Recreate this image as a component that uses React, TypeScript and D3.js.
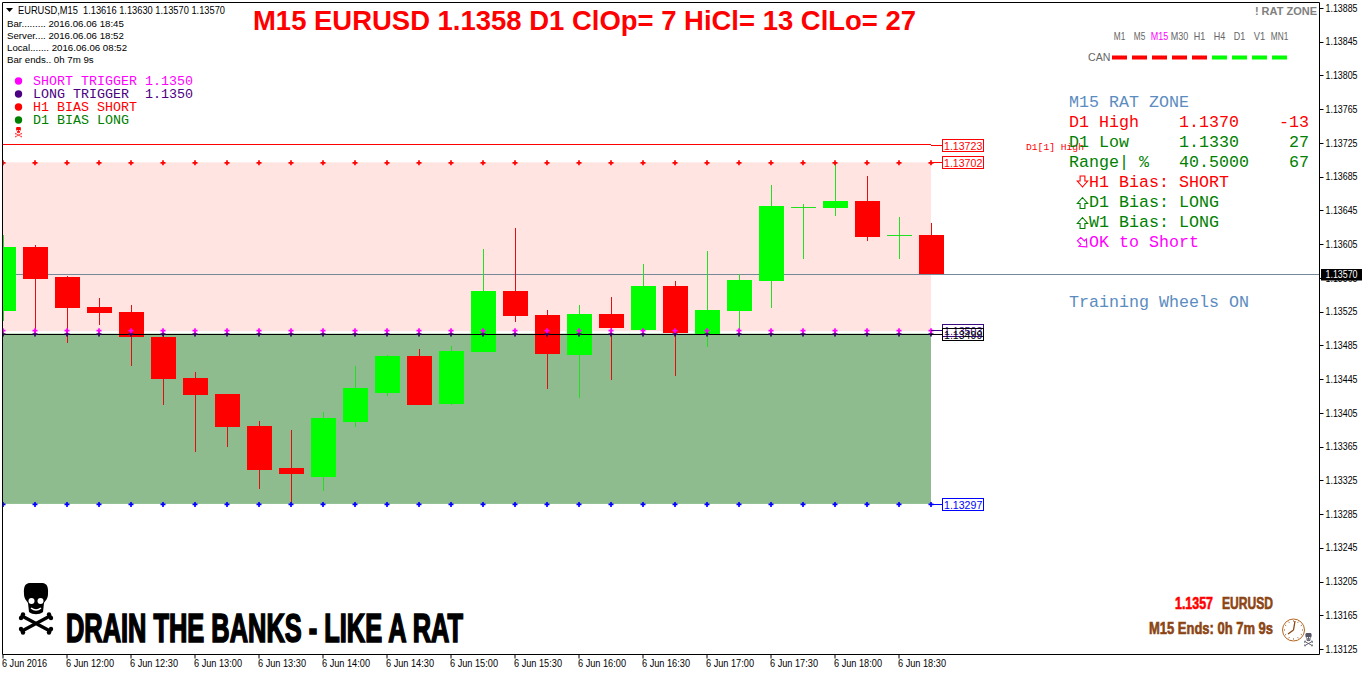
import React from 'react'
import * as d3 from 'd3'

const opens = [1.13526, 1.13602, 1.13566, 1.13531, 1.13525, 1.13495, 1.13446, 1.13427, 1.13389, 1.1334, 1.13329, 1.13394, 1.13429, 1.13472, 1.13415, 1.13477, 1.13549, 1.13521, 1.13474, 1.13522, 1.13503, 1.13555, 1.13499, 1.13526, 1.13561, 1.13649, 1.13648, 1.13656, 1.13616, 1.13616]
const highs = [1.13616, 1.13604, 1.13567, 1.13541, 1.13533, 1.13497, 1.13453, 1.13427, 1.13395, 1.13385, 1.13406, 1.13461, 1.13474, 1.13481, 1.13484, 1.13599, 1.13624, 1.13527, 1.13533, 1.13542, 1.13582, 1.13561, 1.13597, 1.1357, 1.13675, 1.13653, 1.13702, 1.13686, 1.13637, 1.1363]
const lows = [1.13514, 1.13501, 1.13488, 1.13509, 1.13461, 1.13414, 1.13359, 1.13365, 1.13315, 1.13298, 1.13312, 1.13388, 1.13425, 1.13414, 1.13414, 1.13477, 1.13513, 1.13433, 1.13423, 1.13444, 1.13503, 1.13449, 1.13483, 1.13499, 1.13529, 1.13587, 1.13638, 1.13609, 1.13587, 1.1357]
const closes = [1.13602, 1.13564, 1.13529, 1.13523, 1.13495, 1.13445, 1.13426, 1.13388, 1.13337, 1.13333, 1.13399, 1.13434, 1.13472, 1.13414, 1.13478, 1.13549, 1.1352, 1.13475, 1.13522, 1.13506, 1.13555, 1.135, 1.13527, 1.13563, 1.1365, 1.13649, 1.13656, 1.13614, 1.13616, 1.1357]

const timeLabels = ['6 Jun 2016', '6 Jun 12:00', '6 Jun 12:30', '6 Jun 13:00', '6 Jun 13:30', '6 Jun 14:00', '6 Jun 14:30', '6 Jun 15:00', '6 Jun 15:30', '6 Jun 16:00', '6 Jun 16:30', '6 Jun 17:00', '6 Jun 17:30', '6 Jun 18:00', '6 Jun 18:30']
const priceTicks = d3.range(0, 20).map(i => +(1.13885 - i * 0.0004).toFixed(5))

const prevHigh = 1.13723
const zoneTop = 1.13702
const shortTrigger = 1.13503
const longTrigger = 1.13499
const zoneBottom = 1.13297
const lastPrice = 1.1357

const timeframes = ['M1', 'M5', 'M15', 'M30', 'H1', 'H4', 'D1', 'V1', 'MN1']
const tfBias = ['short', 'short', 'short', 'short', 'short', 'long', 'long', 'long', 'long']

const infoLines = ['Bar......... 2016.06.06 18:45', 'Server.... 2016.06.06 18:52', 'Local....... 2016.06.06 08:52', 'Bar ends.. 0h 7m 9s']
const legendLabels = ['SHORT TRIGGER 1.1350', 'LONG TRIGGER  1.1350', 'H1 BIAS SHORT', 'D1 BIAS LONG']
const legendColors = ['#ff00ff', '#4b0082', '#ff0000', '#008000']

const W = 1362
const H = 675
const left = 2.5
const right = 1319.5
const top = 2.5
const bottom = 654.5
const zoneEnd = 931

const mono = '"Liberation Mono", monospace'
const sans = '"Liberation Sans", Arial, sans-serif'

// drawn about 36 wide and 52 high, origin at the top centre of the skull
function Skull({ x, y, k = 1, color = '#000', hole = '#fff' }) {
  return <g transform={`translate(${x},${y}) scale(${k})`}>
    <path d="M-12,11 C-13,-2 -7,0 0,0 C7,0 13,-2 12,11 C12,16 9,18 8,20 L7,29 C3,32 -3,32 -7,29 L-8,20 C-9,18 -12,16 -12,11 Z" fill={color} />
    <circle cx={-4.5} cy={18} r={3} fill={hole} />
    <circle cx={4.5} cy={18} r={3} fill={hole} />
    <path d="M-5,25 Q0,29 5,25" fill="none" stroke={hole} strokeWidth={1.5} />
    <path d="M-14,33 L14,48 M14,33 L-14,48" stroke={color} strokeWidth={3.4} strokeLinecap="round" />
    <circle cx={-15} cy={35} r={2.2} fill={color} />
    <circle cx={-13} cy={31.5} r={2.2} fill={color} />
    <circle cx={15} cy={35} r={2.2} fill={color} />
    <circle cx={13} cy={31.5} r={2.2} fill={color} />
    <circle cx={-15} cy={46} r={2.2} fill={color} />
    <circle cx={-13} cy={49.5} r={2.2} fill={color} />
    <circle cx={15} cy={46} r={2.2} fill={color} />
    <circle cx={13} cy={49.5} r={2.2} fill={color} />
  </g>
}

function Arrow({ x, y, rotate, color }) {
  return <path d="M0,-5.5 L5.2,0.5 H2.4 V5.5 H-2.4 V0.5 H-5.2 Z" transform={`translate(${x},${y}) rotate(${rotate})`} fill="#fff" stroke={color} strokeWidth={1.1} />
}

export default function App() {
  const x = d3.scaleLinear().domain([0, 29]).range([3.5, 931.5])
  const y = d3.scaleLinear().domain([1.13125, 1.13885]).range([649, 8])
  const crossPath = d3.symbol().type(d3.symbolCross).size(14)()
  const dotRows = [
    { price: zoneTop, color: '#ff0000' },
    { price: longTrigger, color: '#300060' },
    { price: shortTrigger, color: '#ff00ff' },
    { price: zoneBottom, color: '#0000ff' },
  ]
  const priceBoxes = [
    { price: prevHigh, color: '#ff0000', text: '1.13723' },
    { price: zoneTop, color: '#ff0000', text: '1.13702' },
    { price: shortTrigger, color: '#3a0a80', text: '1.13503' },
    { price: longTrigger, color: '#000000', text: '1.13499' },
    { price: zoneBottom, color: '#0000ff', text: '1.13297' },
  ]
  const dashX = d3.scaleLinear().domain([0, 8]).range([1112, 1272])

  return <div style={{ position: 'absolute', left: 0, top: 0 }}>
    <svg width={W} height={H} style={{ display: 'block', background: '#fff' }} fontFamily={sans}>
      <defs>
        <clipPath id="plot"><rect x={3} y={3} width={right - 3} height={bottom - 3} /></clipPath>
      </defs>

      <g clipPath="url(#plot)">
        <rect x={left} y={y(zoneTop)} width={zoneEnd - left} height={y(shortTrigger) - y(zoneTop) + 1} fill="#ffe4e1" />
        <rect x={left} y={y(longTrigger)} width={zoneEnd - left} height={y(zoneBottom) - y(longTrigger)} fill="#8fbc8f" />
        <line x1={left} x2={right} y1={Math.round(y(lastPrice)) + 0.5} y2={Math.round(y(lastPrice)) + 0.5} stroke="#778899" />
        <line x1={left} x2={zoneEnd} y1={Math.round(y(prevHigh)) - 0.5} y2={Math.round(y(prevHigh)) - 0.5} stroke="#ff0000" />

        <g shapeRendering="crispEdges">
          {opens.map((open, i) => {
            const up = closes[i] >= open
            const cx = x(i)
            const bodyTop = y(Math.max(open, closes[i]))
            const bodyH = Math.abs(y(open) - y(closes[i]))
            return <g key={i}>
              <rect x={cx - 0.5} width={1} y={y(highs[i])} height={y(lows[i]) - y(highs[i])} fill={up ? '#20e020' : '#e01010'} />
              <rect x={cx - 12.5} width={25} y={bodyTop} height={Math.max(bodyH, 1)} fill={bodyH < 1 ? '#20e020' : up ? '#00ff00' : '#ff0000'} />
            </g>
          })}
        </g>

        <line x1={left} x2={zoneEnd} y1={Math.round(y(longTrigger)) + 0.5} y2={Math.round(y(longTrigger)) + 0.5} stroke="#000" />

        {dotRows.map(row => <g key={row.price} fill={row.color}>
          {d3.range(0, 30).map(i => <path key={i} d={crossPath} transform={`translate(${x(i) - 0.5},${y(row.price) + 0.5})`} />)}
        </g>)}
      </g>

      {priceBoxes.map(b => {
        const py = Math.round(y(b.price)) + 0.5
        return <g key={b.text}>
          <line x1={zoneEnd} x2={942.5} y1={py} y2={py} stroke={b.color} />
          <rect x={942.5} y={py - 6} width={41} height={12} fill="#fff" fillOpacity={b.text === '1.13499' ? 0 : 1} stroke={b.color} />
          <text x={944} y={py + 4} fontSize={10.6} fill={b.color}>{b.text}</text>
        </g>
      })}

      <path d={`M${left},${bottom}V${top}H${right}V${bottom}H${left}`} fill="none" stroke="#000" />

      {priceTicks.map(p => <g key={p}>
        <line x1={right} x2={right + 4} y1={Math.round(y(p)) + 0.5} y2={Math.round(y(p)) + 0.5} stroke="#000" />
        <text x={1325.5} y={y(p) + 3.7} fontSize={10.2} textLength={32} lengthAdjust="spacingAndGlyphs" fill="#000">{p.toFixed(5)}</text>
      </g>)}
      <rect x={1321} y={269} width={41} height={11.5} fill="#000" />
      <text x={1325.5} y={y(lastPrice) + 4} fontSize={10.2} textLength={32} lengthAdjust="spacingAndGlyphs" fill="#fff">{lastPrice.toFixed(5)}</text>

      {timeLabels.map((t, i) => <g key={t}>
        <line x1={x(i * 2) - 0.5} x2={x(i * 2) - 0.5} y1={bottom} y2={bottom + 4} stroke="#000" />
        <text x={x(i * 2) - 1.5} y={667} fontSize={10.2} textLength={i === 0 ? 45 : 48} lengthAdjust="spacingAndGlyphs" fill="#000">{t}</text>
      </g>)}

      <path d="M6,8H13L9.5,12Z" fill="#000" />
      <text x={18} y={14} fontSize={10.2} textLength={207} lengthAdjust="spacingAndGlyphs" xmlSpace="preserve">EURUSD,M15  1.13616 1.13630 1.13570 1.13570</text>
      {infoLines.map((line, i) => <text key={line} x={7} y={27 + i * 12} fontSize={9.7} fill="#000">{line}</text>)}

      <text x={253} y={29.5} fontSize={28} fontWeight="bold" fill="#ff0000" textLength={663} lengthAdjust="spacingAndGlyphs">M15 EURUSD 1.1358 D1 ClOp= 7 HiCl= 13 ClLo= 27</text>

      <g fontFamily={mono} fontSize={13.33}>
        {legendLabels.map((label, i) => <g key={label} fill={legendColors[i]}>
          <circle cx={18.5} cy={81 + i * 13} r={3.7} />
          <text x={33} y={85 + i * 13} xmlSpace="preserve">{label}</text>
        </g>)}
      </g>
      <Skull x={18.5} y={127} k={0.2} color="#ff0000" />

      <text x={1317} y={15} fontSize={11} fontWeight="bold" textAnchor="end" fill="#808080">! RAT ZONE</text>
      {timeframes.map((tf, i) => <g key={tf}>
        <text x={dashX(i) + 7.5} y={40} fontSize={10.2} textAnchor="middle" textLength={tf.length === 2 ? 11.5 : 17.5} lengthAdjust="spacingAndGlyphs" fill={tf === 'M15' ? '#ff00ff' : '#666'}>{tf}</text>
        <rect x={dashX(i)} y={55.5} width={15} height={4} fill={tfBias[i] === 'short' ? '#ff0000' : '#00ff00'} />
      </g>)}
      <text x={1088} y={61} fontSize={10.6} fill="#666">CAN</text>

      <text x={1026} y={150} fontSize={9.67} fontFamily={mono} fill="#ff0000">D1[1] High</text>

      <g fontFamily={mono} fontSize={16.67} xmlSpace="preserve">
        <text x={1069} y={107} fill="#5b8cc0">M15 RAT ZONE</text>
        <text x={1069} y={127} fill="#ff0000">D1 High</text>
        <text x={1179} y={127} fill="#ff0000">1.1370</text>
        <text x={1309} y={127} textAnchor="end" fill="#ff0000">-13</text>
        <text x={1069} y={147} fill="#008000">D1 Low</text>
        <text x={1179} y={147} fill="#008000">1.1330</text>
        <text x={1309} y={147} textAnchor="end" fill="#008000">27</text>
        <text x={1069} y={167} fill="#008000">Range| %</text>
        <text x={1179} y={167} fill="#008000">40.5000</text>
        <text x={1309} y={167} textAnchor="end" fill="#008000">67</text>
        <text x={1089} y={187} fill="#ff0000">H1 Bias: SHORT</text>
        <text x={1089} y={207} fill="#008000">D1 Bias: LONG</text>
        <text x={1089} y={227} fill="#008000">W1 Bias: LONG</text>
        <text x={1089} y={247} fill="#ff00ff">OK to Short</text>
        <text x={1069} y={307} fill="#5b8cc0">Training Wheels ON</text>
      </g>
      <Arrow x={1082.5} y={181.5} rotate={180} color="#ff0000" />
      <Arrow x={1082.5} y={203} rotate={0} color="#008000" />
      <Arrow x={1082.5} y={223} rotate={0} color="#008000" />
      <Arrow x={1083} y={243} rotate={135} color="#ff00ff" />

      <Skull x={36} y={583} />
      <text x={66} y={641.5} fontSize={40} fontWeight="bold" stroke="#000" strokeWidth={1.7} textLength={397} lengthAdjust="spacingAndGlyphs">DRAIN THE BANKS - LIKE A RAT</text>

      <g fontWeight="bold" fontSize={16} strokeWidth={0.6}>
        <text x={1175} y={609} stroke="#ff0000" fill="#ff0000" textLength={38} lengthAdjust="spacingAndGlyphs">1.1357</text>
        <text x={1222} y={609} stroke="#8b4513" fill="#8b4513" textLength={51} lengthAdjust="spacingAndGlyphs">EURUSD</text>
        <text x={1149} y={634} stroke="#8b4513" fill="#8b4513" textLength={124} lengthAdjust="spacingAndGlyphs">M15 Ends: 0h 7m 9s</text>
      </g>
      <g fill="none" stroke="#b5651d">
        <circle cx={1293.5} cy={630} r={11} />
        {d3.range(0, 12).map(i => {
          const a = i * Math.PI / 6
          return <line key={i} x1={1293.5 + 8.5 * Math.sin(a)} y1={630 - 8.5 * Math.cos(a)} x2={1293.5 + 9.5 * Math.sin(a)} y2={630 - 9.5 * Math.cos(a)} stroke="#8b4513" />
        })}
        <path d="M1293.5,630L1295,621M1293.5,630L1288,634" stroke="#8b4513" strokeWidth={1.3} />
      </g>
      <Skull x={1308.5} y={633} k={0.26} color="#556" />
    </svg>
  </div>
}
